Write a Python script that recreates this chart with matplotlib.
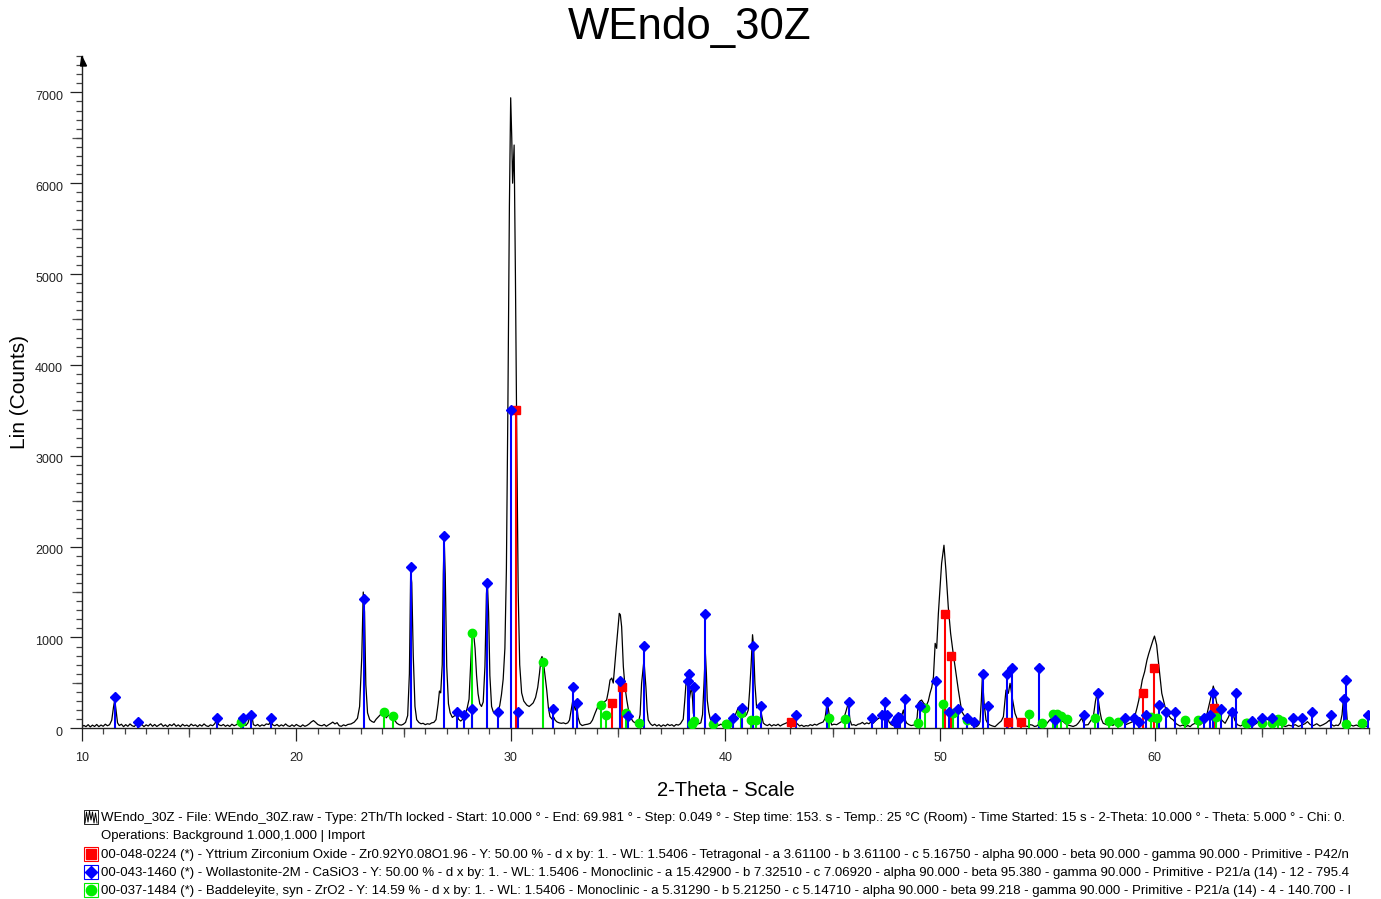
import matplotlib
matplotlib.use("Agg")
import matplotlib.pyplot as plt
from matplotlib.patches import Polygon, Rectangle
from matplotlib.lines import Line2D
from matplotlib.ticker import MultipleLocator, FixedLocator
from matplotlib.transforms import ScaledTranslation

plt.rcParams['font.family'] = ['Liberation Sans', 'DejaVu Sans']

# ---------------------------------------------------------------- data
# measured scan: (2-theta in degrees, counts)
scan_points = [
    (10.00, 15), (10.10, 32), (10.20, 18), (10.30, 40), (10.40, 15), (10.50, 35),
    (10.60, 20), (10.70, 42), (10.80, 18), (10.90, 36), (11.00, 22), (11.10, 45),
    (11.20, 28), (11.30, 40), (11.40, 90), (11.48, 230), (11.54, 310), (11.60, 200),
    (11.67, 60), (11.75, 30), (11.85, 45), (11.95, 18), (12.05, 40), (12.15, 22),
    (12.25, 48), (12.35, 28), (12.45, 20), (12.55, 45), (12.62, 65), (12.70, 28),
    (12.80, 42), (12.90, 18), (13.00, 38), (13.10, 25), (13.20, 48), (13.30, 22),
    (13.40, 42), (13.50, 20), (13.60, 36), (13.70, 50), (13.80, 22), (13.90, 38),
    (14.00, 18), (14.10, 42), (14.20, 28), (14.30, 50), (14.40, 22), (14.50, 38),
    (14.60, 18), (14.70, 44), (14.80, 26), (14.90, 36), (15.00, 20), (15.10, 46),
    (15.20, 28), (15.30, 38), (15.40, 18), (15.50, 40), (15.60, 24), (15.70, 48),
    (15.80, 28), (15.90, 20), (16.00, 38), (16.10, 28), (16.20, 50), (16.30, 100),
    (16.38, 40), (16.50, 28), (16.60, 42), (16.70, 22), (16.80, 36), (16.90, 20),
    (17.00, 45), (17.10, 28), (17.20, 38), (17.30, 55), (17.45, 90), (17.55, 45),
    (17.65, 30), (17.75, 60), (17.85, 140), (17.92, 150), (18.00, 40), (18.10, 28),
    (18.20, 42), (18.30, 22), (18.40, 38), (18.50, 28), (18.60, 48), (18.72, 42),
    (18.81, 85), (18.90, 38), (19.00, 28), (19.10, 42), (19.20, 22), (19.30, 38),
    (19.40, 25), (19.50, 48), (19.60, 28), (19.70, 20), (19.80, 38), (19.90, 22),
    (20.00, 42), (20.10, 28), (20.20, 18), (20.30, 38), (20.40, 22), (20.50, 32),
    (20.60, 48), (20.70, 70), (20.80, 85), (20.90, 65), (21.00, 42), (21.10, 32),
    (21.20, 28), (21.30, 42), (21.40, 22), (21.50, 38), (21.60, 52), (21.70, 68),
    (21.80, 48), (21.90, 62), (22.00, 28), (22.10, 22), (22.20, 38), (22.30, 28),
    (22.40, 42), (22.55, 48), (22.70, 68), (22.85, 110), (22.95, 240), (23.05, 780),
    (23.12, 1500), (23.18, 1280), (23.24, 480), (23.32, 170), (23.42, 95), (23.52, 75),
    (23.62, 65), (23.72, 100), (23.82, 125), (23.92, 150), (24.02, 165), (24.09, 175),
    (24.19, 115), (24.29, 145), (24.39, 125), (24.49, 150), (24.59, 85), (24.69, 55),
    (24.79, 40), (24.89, 35), (24.99, 45), (25.09, 65), (25.19, 140), (25.27, 600),
    (25.33, 1720), (25.38, 1600), (25.45, 800), (25.53, 240), (25.61, 95), (25.71, 65),
    (25.81, 50), (25.91, 55), (26.01, 40), (26.11, 50), (26.21, 45), (26.31, 60),
    (26.41, 65), (26.51, 95), (26.61, 270), (26.67, 410), (26.73, 390), (26.80, 700),
    (26.85, 1700), (26.89, 2090), (26.94, 1700), (27.01, 680), (27.09, 270), (27.17, 170),
    (27.27, 120), (27.39, 140), (27.47, 160), (27.56, 100), (27.66, 80), (27.76, 100),
    (27.86, 140), (27.96, 220), (28.05, 320), (28.12, 680), (28.19, 1040), (28.26, 1050),
    (28.33, 880), (28.40, 580), (28.47, 380), (28.55, 270), (28.63, 240), (28.71, 290),
    (28.79, 680), (28.86, 1480), (28.90, 1620), (28.96, 1280), (29.02, 580), (29.10, 240),
    (29.18, 180), (29.26, 160), (29.34, 170), (29.41, 200), (29.48, 250), (29.56, 370),
    (29.64, 540), (29.72, 880), (29.79, 1750), (29.86, 3550), (29.93, 5750), (29.99, 6940),
    (30.04, 6500), (30.08, 6000), (30.15, 6420), (30.21, 5000), (30.28, 3000), (30.34, 1500),
    (30.41, 700), (30.50, 390), (30.60, 300), (30.74, 256), (30.85, 240), (30.95, 260),
    (31.04, 280), (31.15, 340), (31.25, 450), (31.33, 600), (31.40, 760), (31.45, 790),
    (31.52, 720), (31.60, 560), (31.67, 420), (31.75, 220), (31.82, 130), (31.92, 100),
    (32.00, 120), (32.06, 90), (32.15, 70), (32.25, 60), (32.35, 55), (32.45, 60),
    (32.55, 50), (32.65, 60), (32.73, 90), (32.81, 200), (32.88, 300), (32.94, 260),
    (33.00, 200), (33.07, 250), (33.13, 120), (33.22, 50), (33.32, 30), (33.45, 40),
    (33.58, 45), (33.70, 55), (33.80, 90), (33.92, 165), (34.08, 256), (34.15, 240),
    (34.25, 260), (34.35, 290), (34.46, 311), (34.55, 420), (34.62, 531), (34.70, 553),
    (34.77, 498), (34.90, 861), (35.05, 1265), (35.10, 1250), (35.16, 1118), (35.24, 678),
    (35.32, 450), (35.40, 311), (35.48, 200), (35.55, 128), (35.70, 73), (35.80, 60),
    (35.94, 58), (36.02, 150), (36.09, 495), (36.20, 751), (36.29, 458), (36.35, 200),
    (36.40, 91), (36.50, 50), (36.60, 30), (36.70, 45), (36.80, 25), (36.90, 40),
    (37.00, 20), (37.10, 38), (37.20, 25), (37.30, 45), (37.40, 30), (37.50, 40),
    (37.60, 22), (37.70, 42), (37.80, 35), (37.90, 50), (38.03, 100), (38.10, 300),
    (38.16, 495), (38.22, 568), (38.27, 420), (38.31, 311), (38.37, 400), (38.42, 458),
    (38.47, 300), (38.50, 168), (38.58, 90), (38.66, 58), (38.75, 50), (38.85, 60),
    (38.93, 150), (39.00, 500), (39.06, 840), (39.11, 600), (39.15, 311), (39.22, 180),
    (39.28, 113), (39.38, 60), (39.48, 40), (39.58, 50), (39.68, 30), (39.78, 45),
    (39.88, 35), (39.98, 55), (40.08, 40), (40.18, 60), (40.28, 70), (40.38, 100),
    (40.48, 160), (40.58, 220), (40.68, 245), (40.75, 200), (40.82, 150), (40.90, 130),
    (40.98, 150), (41.06, 200), (41.12, 400), (41.19, 680), (41.26, 1030), (41.31, 900),
    (41.37, 495), (41.45, 225), (41.53, 250), (41.61, 278), (41.68, 150), (41.76, 58),
    (41.85, 40), (41.95, 30), (42.05, 45), (42.15, 25), (42.25, 40), (42.35, 30),
    (42.45, 45), (42.55, 25), (42.65, 40), (42.75, 50), (42.85, 60), (42.95, 72),
    (43.05, 60), (43.15, 40), (43.25, 30), (43.35, 50), (43.45, 25), (43.55, 35),
    (43.65, 20), (43.75, 30), (43.85, 25), (43.95, 40), (44.05, 30), (44.15, 45),
    (44.25, 35), (44.35, 50), (44.45, 60), (44.55, 70), (44.64, 110), (44.74, 293),
    (44.80, 200), (44.86, 110), (44.95, 36), (45.05, 45), (45.18, 40), (45.28, 55),
    (45.38, 70), (45.49, 91), (45.61, 183), (45.72, 275), (45.80, 91), (45.88, 36),
    (45.98, 40), (46.08, 30), (46.18, 45), (46.28, 50), (46.38, 65), (46.48, 45),
    (46.58, 60), (46.68, 50), (46.78, 70), (46.88, 55), (46.98, 80), (47.08, 100),
    (47.20, 120), (47.28, 190), (47.36, 140), (47.44, 200), (47.52, 150), (47.62, 70),
    (47.72, 40), (47.82, 30), (47.92, 50), (48.02, 35), (48.12, 80), (48.21, 140),
    (48.29, 201), (48.36, 100), (48.44, 58), (48.55, 40), (48.65, 30), (48.75, 35),
    (48.85, 40), (48.93, 120), (48.98, 275), (49.06, 300), (49.14, 311), (49.22, 280),
    (49.30, 260), (49.37, 256), (49.45, 300), (49.53, 385), (49.61, 450), (49.69, 568),
    (49.77, 935), (49.84, 880), (49.92, 1265), (50.00, 1550), (50.07, 1815), (50.18, 2015),
    (50.27, 1742), (50.38, 1338), (50.49, 1045), (50.61, 825), (50.74, 605), (50.85, 421),
    (50.93, 300), (51.01, 183), (51.16, 128), (51.32, 113), (51.47, 36), (51.58, 25),
    (51.70, 18), (51.80, 40), (51.86, 73), (51.92, 300), (51.97, 568), (52.05, 275),
    (52.14, 91), (52.23, 50), (52.33, 36), (52.45, 25), (52.56, 18), (52.66, 40),
    (52.75, 60), (52.85, 80), (52.95, 128), (53.02, 300), (53.07, 421), (53.12, 400),
    (53.18, 385), (53.26, 495), (53.32, 400), (53.38, 311), (53.49, 165), (53.64, 73),
    (53.76, 40), (53.88, 36), (54.00, 25), (54.10, 20), (54.20, 40), (54.30, 35),
    (54.40, 20), (54.50, 25), (54.60, 45), (54.70, 40), (54.80, 25), (54.90, 30),
    (55.00, 60), (55.10, 90), (55.20, 110), (55.30, 100), (55.40, 120), (55.50, 100),
    (55.60, 110), (55.70, 80), (55.80, 60), (55.90, 40), (56.05, 30), (56.20, 20),
    (56.35, 35), (56.45, 60), (56.60, 113), (56.68, 60), (56.75, 36), (56.90, 40),
    (57.01, 80), (57.14, 128), (57.24, 300), (57.32, 385), (57.38, 300), (57.45, 183),
    (57.52, 100), (57.60, 55), (57.75, 40), (57.90, 60), (58.05, 30), (58.20, 70),
    (58.35, 50), (58.50, 80), (58.65, 40), (58.80, 55), (58.95, 70), (59.05, 110),
    (59.11, 165), (59.18, 230), (59.26, 311), (59.34, 420), (59.42, 531), (59.53, 622),
    (59.64, 751), (59.72, 820), (59.80, 880), (59.92, 970), (59.99, 1015), (60.09, 917),
    (60.20, 678), (60.33, 385), (60.48, 238), (60.64, 146), (60.75, 110), (60.87, 91),
    (61.00, 50), (61.18, 25), (61.30, 35), (61.45, 20), (61.55, 30), (61.65, 18),
    (61.75, 40), (61.88, 55), (62.00, 45), (62.11, 36), (62.22, 60), (62.35, 91),
    (62.43, 150), (62.50, 220), (62.58, 300), (62.66, 385), (62.73, 465), (62.80, 400),
    (62.86, 311), (62.97, 183), (63.12, 91), (63.28, 55), (63.36, 90), (63.43, 120),
    (63.51, 165), (63.57, 150), (63.63, 183), (63.73, 91), (63.85, 40), (64.00, 25),
    (64.15, 45), (64.30, 30), (64.45, 50), (64.60, 35), (64.75, 55), (64.90, 90),
    (65.00, 100), (65.10, 80), (65.20, 110), (65.30, 90), (65.40, 100), (65.50, 80),
    (65.60, 95), (65.70, 70), (65.80, 40), (65.95, 30), (66.10, 20), (66.25, 35),
    (66.40, 25), (66.55, 40), (66.70, 20), (66.85, 35), (67.00, 50), (67.12, 73),
    (67.25, 40), (67.40, 30), (67.55, 50), (67.70, 25), (67.85, 40), (68.00, 60),
    (68.15, 91), (68.25, 40), (68.35, 25), (68.45, 35), (68.55, 30), (68.65, 60),
    (68.73, 150), (68.79, 311), (68.87, 348), (68.92, 250), (68.97, 91), (69.10, 40),
    (69.25, 25), (69.40, 36), (69.55, 18), (69.70, 30), (69.85, 20), (69.98, 25),
]

# reference patterns: stick positions (2-theta) and heights (counts)
ysz_pos = [30.22, 34.72, 35.16, 43.04, 50.23, 50.52, 53.18, 53.77, 59.44, 59.98, 62.76]
ysz_int = [3500, 282, 451, 73, 1254, 799, 73, 73, 392, 667, 220]

wol_pos = [11.55, 12.61, 16.30, 17.50, 17.90, 18.81, 23.17, 25.33, 26.88, 27.47,
           27.83, 28.17, 28.90, 29.41, 30.00, 30.34, 31.98, 32.88, 33.07, 35.07,
           35.47, 36.22, 38.24, 38.31, 38.55, 39.06, 39.51, 40.36, 40.75, 41.30,
           41.64, 43.29, 44.74, 45.75, 46.81, 47.28, 47.43, 47.54, 47.90, 47.98,
           48.04, 48.13, 48.36, 49.06, 49.81, 50.42, 50.82, 51.27, 51.58, 51.99,
           52.23, 53.10, 53.34, 54.60, 55.36, 56.72, 57.36, 58.62, 59.05, 59.27,
           59.58, 60.21, 60.53, 60.95, 62.31, 62.58, 62.73, 63.08, 63.59, 63.79,
           64.55, 65.01, 65.45, 66.43, 66.85, 67.33, 68.21, 68.83, 68.90, 69.95]
wol_int = [350, 73, 110, 110, 146, 110, 1422, 1771, 2115, 176,
           146, 212, 1595, 176, 3500, 176, 212, 458, 282, 524,
           135, 909, 524, 597, 451, 1254, 110, 110, 220, 905,
           245, 146, 286, 286, 110, 146, 286, 146, 73, 99,
           121, 110, 319, 245, 524, 176, 212, 110, 73, 594,
           249, 594, 667, 667, 91, 146, 385, 110, 110, 73,
           146, 256, 183, 183, 110, 146, 392, 216, 183, 392,
           80, 110, 110, 110, 110, 183, 146, 322, 531, 146]

bad_pos = [17.44, 24.09, 24.49, 28.20, 31.51, 34.18, 34.43, 35.36, 35.97, 38.42,
           38.55, 39.43, 40.01, 40.06, 40.74, 41.17, 41.41, 44.84, 45.57, 48.98,
           49.29, 50.15, 50.62, 51.24, 54.14, 54.73, 55.27, 55.43, 55.62, 55.93,
           57.22, 57.88, 58.30, 59.81, 60.09, 61.41, 62.00, 62.87, 64.24, 64.32,
           65.01, 65.45, 65.73, 65.95, 68.91, 69.65]
bad_int = [73, 183, 139, 1052, 729, 256, 146, 172, 62, 44,
           84, 47, 47, 47, 165, 91, 91, 110, 99, 62,
           220, 267, 172, 91, 154, 55, 154, 154, 135, 99,
           110, 84, 70, 121, 110, 91, 91, 121, 62, 62,
           55, 55, 99, 84, 47, 55]

x_major = [10, 20, 30, 40, 50, 60]
x_medium = [15, 25, 35, 45, 55, 65]
y_major = [0, 1000, 2000, 3000, 4000, 5000, 6000, 7000]
y_medium = [500, 1500, 2500, 3500, 4500, 5500, 6500]

title = "WEndo_30Z"
legend_lines = [
    ("scan", "WEndo_30Z - File: WEndo_30Z.raw - Type: 2Th/Th locked - Start: 10.000 \u00b0 - End: 69.981 \u00b0 - "
             "Step: 0.049 \u00b0 - Step time: 153. s - Temp.: 25 \u00b0C (Room) - Time Started: 15 s - "
             "2-Theta: 10.000 \u00b0 - Theta: 5.000 \u00b0 - Chi: 0."),
    (None, "Operations: Background 1.000,1.000 | Import"),
    ("ysz", "00-048-0224 (*) - Yttrium Zirconium Oxide - Zr0.92Y0.08O1.96 - Y: 50.00 % - d x by: 1. - "
            "WL: 1.5406 - Tetragonal - a 3.61100 - b 3.61100 - c 5.16750 - alpha 90.000 - beta 90.000 - "
            "gamma 90.000 - Primitive - P42/n"),
    ("wol", "00-043-1460 (*) - Wollastonite-2M - CaSiO3 - Y: 50.00 % - d x by: 1. - WL: 1.5406 - "
            "Monoclinic - a 15.42900 - b 7.32510 - c 7.06920 - alpha 90.000 - beta 95.380 - "
            "gamma 90.000 - Primitive - P21/a (14) - 12 - 795.4"),
    ("bad", "00-037-1484 (*) - Baddeleyite, syn - ZrO2 - Y: 14.59 % - d x by: 1. - WL: 1.5406 - "
            "Monoclinic - a 5.31290 - b 5.21250 - c 5.14710 - alpha 90.000 - beta 99.218 - "
            "gamma 90.000 - Primitive - P21/a (14) - 4 - 140.700 - I"),
]

# ---------------------------------------------------------------- styles
phase_style = {
    "ysz": dict(color="#ff0000", marker="s", ms=5.6),
    "wol": dict(color="#0000ff", marker="D", ms=4.6),
    "bad": dict(color="#00ee00", marker="o", ms=6.0),
}

W, H = 1381, 899
fig = plt.figure(figsize=(W / 100, H / 100), dpi=100)


def fx(px):
    return px / W


def fy(py):
    return 1 - py / H


x0, x1, y0, y1 = 81.7, 1369.3, 728.3, 56.0
ax = fig.add_axes([fx(x0), fy(y0), fx(x1) - fx(x0), fy(y1) - fy(y0)])

tt = [p[0] for p in scan_points]
cc = [p[1] for p in scan_points]
ax.plot(tt, cc, color="black", lw=0.9, zorder=2)

for key, pos, inten in (("bad", bad_pos, bad_int),
                        ("ysz", ysz_pos, ysz_int),
                        ("wol", wol_pos, wol_int)):
    st = phase_style[key]
    ax.vlines(pos, 0, inten, colors=st["color"], lw=1.5, zorder=3)
    ax.plot(pos, inten, ls="none", marker=st["marker"], ms=st["ms"],
            color=st["color"], mec=st["color"], zorder=4)

ax.set_xlim(10, 70)
ax.set_ylim(0, 7400)
for s in ("top", "right"):
    ax.spines[s].set_visible(False)
for s in ("left", "bottom"):
    ax.spines[s].set_linewidth(1.0)
    ax.spines[s].set_color("#222222")

ax.xaxis.set_major_locator(FixedLocator(x_major))
ax.xaxis.set_minor_locator(MultipleLocator(1))
ax.yaxis.set_major_locator(FixedLocator(y_major))
ax.yaxis.set_minor_locator(MultipleLocator(100))
ax.tick_params(axis="x", which="major", length=9, width=0.9, pad=8, labelsize=9, colors="#222222")
ax.tick_params(axis="x", which="minor", length=4.5, width=0.9, colors="#444444")
ax.tick_params(axis="y", which="major", length=9, width=0.9, pad=4.5, labelsize=9, colors="#222222")
ax.tick_params(axis="y", which="minor", length=4.3, width=0.9, colors="#444444")

# intensity labels sit slightly below their tick marks
shift_down = ScaledTranslation(0, -3 / 100, fig.dpi_scale_trans)
for lab in ax.get_yticklabels():
    lab.set_transform(lab.get_transform() + shift_down)

secx = ax.secondary_xaxis("bottom")
secx.set_xticks(x_medium)
secx.tick_params(length=6.8, width=0.9, labelbottom=False, colors="#555555")
secx.spines["bottom"].set_visible(False)
secy = ax.secondary_yaxis("left")
secy.set_yticks(y_medium)
secy.tick_params(length=7.2, width=0.9, labelleft=False, colors="#555555")
secy.spines["left"].set_visible(False)

# arrowhead at the top of the intensity axis
fig.add_artist(Polygon([(fx(80.5), fy(66)), (fx(81.8), fy(56.5)), (fx(86.5), fy(66))],
                       closed=True, transform=fig.transFigure, color="black"))

fig.text(fx(690), fy(27), title, ha="center", va="center", fontsize=31.5)
fig.text(fx(726), fy(791), "2-Theta - Scale", ha="center", va="center", fontsize=14.5)
fig.text(fx(20), fy(392), "Lin (Counts)", ha="center", va="center", rotation=90, fontsize=15)

# legend block below the plot
rows_y = [817, 835, 854, 872, 890]
for (key, text), ry in zip(legend_lines, rows_y):
    fig.text(fx(101), fy(ry + 1), text, ha="left", va="center", fontsize=9.5)
    if key is None:
        continue
    if key == "scan":
        fig.add_artist(Rectangle((fx(84), fy(ry + 7)), 14 / W, 14 / H, transform=fig.transFigure,
                                 fill=False, ec="black", lw=0.6))
        zx = [85, 86.5, 88, 89.5, 91, 92.5, 94, 95.5, 97]
        zy = [ry + 6, ry - 5, ry + 5, ry - 6, ry + 3, ry - 5, ry + 6, ry - 4, ry + 6]
        fig.add_artist(Line2D([fx(v) for v in zx], [fy(v) for v in zy], transform=fig.transFigure,
                              color="black", lw=0.7))
    else:
        st = phase_style[key]
        fig.add_artist(Rectangle((fx(84), fy(ry + 7)), 14 / W, 14 / H, transform=fig.transFigure,
                                 fill=False, ec=st["color"], lw=0.8))
        fig.add_artist(Line2D([fx(91)], [fy(ry)], transform=fig.transFigure, ls="none",
                              marker=st["marker"], ms=st["ms"] + 1.4, color=st["color"]))

fig.savefig("out.png", dpi=100)
